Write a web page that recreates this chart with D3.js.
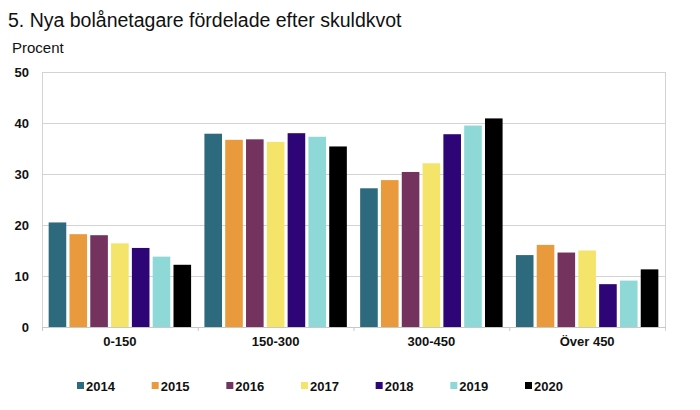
<!DOCTYPE html>
<html>
<head>
<meta charset="utf-8">
<script src="https://cdn.jsdelivr.net/npm/d3@7.9.0/dist/d3.min.js"></script>
<style>
  body { margin: 0; background: #fff; }
  text { font-family: "Liberation Sans", Arial, sans-serif; }
</style>
</head>
<body>
<svg id="chart" width="700" height="410"></svg>
<script>
// data
const groups = ['0-150', '150-300', '300-450', 'Över 450'];
const years = ['2014', '2015', '2016', '2017', '2018', '2019', '2020'];
const v2014 = [20.5, 37.9, 27.2, 14.1];
const v2015 = [18.2, 36.7, 28.8, 16.1];
const v2016 = [18.0, 36.8, 30.4, 14.6];
const v2017 = [16.4, 36.3, 32.1, 15.0];
const v2018 = [15.5, 38.0, 37.8, 8.4];
const v2019 = [13.8, 37.3, 39.5, 9.1];
const v2020 = [12.2, 35.4, 40.9, 11.3];
const yTicks = [0, 10, 20, 30, 40, 50];

const series = [v2014, v2015, v2016, v2017, v2018, v2019, v2020];
const colors = ['#2e6a7e', '#e99a3c', '#74335f', '#f4e46a', '#2e0576', '#8ed8d8', '#000000'];

const svg = d3.select('#chart');
const plotLeft = 42, plotRight = 665, plotTop = 72, plotBottom = 327;

const x0 = d3.scaleBand().domain(groups).range([plotLeft, plotRight]);
const x1 = d3.scaleBand().domain(years).range([0, x0.bandwidth()])
    .paddingInner(0.154).paddingOuter(0.32);
const y = d3.scaleLinear().domain([0, 50]).range([plotBottom, plotTop]);
const color = d3.scaleOrdinal().domain(years).range(colors);

// title
svg.append('text').attr('x', 8).attr('y', 27)
    .attr('font-size', 19.5).attr('fill', '#111')
    .text('5. Nya bolånetagare fördelade efter skuldkvot');
svg.append('text').attr('x', 12).attr('y', 53)
    .attr('font-size', 15).attr('fill', '#111')
    .text('Procent');

// gridlines
svg.append('g').selectAll('line').data(yTicks.filter(d => d > 0)).join('line')
    .attr('x1', plotLeft).attr('x2', plotRight)
    .attr('y1', d => y(d) + 0.5).attr('y2', d => y(d) + 0.5)
    .attr('stroke', '#d3d3d3');

// side borders
svg.append('line').attr('x1', plotLeft + 0.5).attr('x2', plotLeft + 0.5)
    .attr('y1', plotTop).attr('y2', plotBottom).attr('stroke', '#d3d3d3');
svg.append('line').attr('x1', plotRight + 0.5).attr('x2', plotRight + 0.5)
    .attr('y1', plotTop).attr('y2', plotBottom + 4).attr('stroke', '#d3d3d3');

// y labels
svg.append('g').selectAll('text').data(yTicks).join('text')
    .attr('x', 29).attr('y', d => y(d) + 5)
    .attr('text-anchor', 'end').attr('font-size', 13).attr('font-weight', 'bold')
    .attr('fill', '#111')
    .text(d => d);

// bars
const g = svg.append('g').selectAll('g').data(groups).join('g')
    .attr('transform', d => `translate(${x0(d)},0)`);
g.selectAll('rect')
    .data((d, i) => years.map((yr, j) => ({ yr, val: series[j][i] })))
    .join('rect')
    .attr('x', d => x1(d.yr))
    .attr('width', x1.bandwidth())
    .attr('y', d => y(d.val))
    .attr('height', d => y(0) - y(d.val))
    .attr('fill', d => color(d.yr));

// x axis
svg.append('line').attr('x1', plotLeft).attr('x2', plotRight + 1)
    .attr('y1', plotBottom + 0.5).attr('y2', plotBottom + 0.5).attr('stroke', '#c8c8c8');
svg.append('g').selectAll('line').data(groups.slice(1)).join('line')
    .attr('x1', d => x0(d) + 0.5).attr('x2', d => x0(d) + 0.5)
    .attr('y1', plotBottom).attr('y2', plotBottom + 4).attr('stroke', '#c8c8c8');
svg.append('line').attr('x1', plotLeft + 0.5).attr('x2', plotLeft + 0.5)
    .attr('y1', plotBottom).attr('y2', plotBottom + 4).attr('stroke', '#c8c8c8');
svg.append('g').selectAll('text').data(groups).join('text')
    .attr('x', d => x0(d) + x0.bandwidth() / 2).attr('y', 346)
    .attr('text-anchor', 'middle').attr('font-size', 13).attr('font-weight', 'bold')
    .attr('fill', '#111')
    .text(d => d);

// legend
const lx = d3.scaleLinear().domain([0, 6]).range([77, 525]);
const lg = svg.append('g').selectAll('g').data(years).join('g')
    .attr('transform', (d, i) => `translate(${lx(i)},386)`);
lg.append('rect').attr('x', 0).attr('y', -4).attr('width', 7).attr('height', 7)
    .attr('fill', d => color(d));
lg.append('text').attr('x', 9).attr('y', 5)
    .attr('font-size', 13).attr('font-weight', 'bold').attr('fill', '#111')
    .text(d => d);
</script>
</body>
</html>
